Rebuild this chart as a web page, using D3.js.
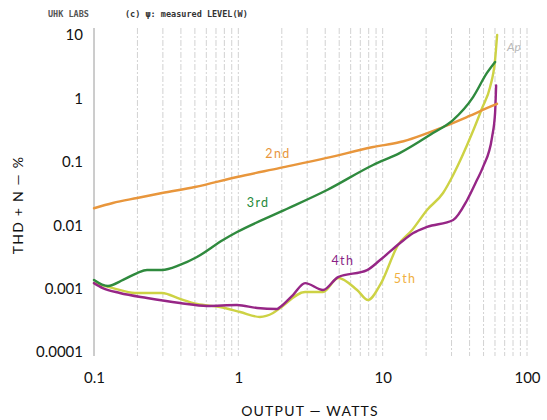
<!DOCTYPE html>
<html>
<head>
<meta charset="utf-8">
<script src="https://cdn.jsdelivr.net/npm/d3@7"></script>
<style>
  html, body { margin: 0; padding: 0; background: #fff; }
  svg { display: block; }
</style>
</head>
<body>
<svg id="chart" width="547" height="420"></svg>
<script>
// Harmonic distortion vs. output power, one series per harmonic
const seriesNames = ["2nd", "3rd", "4th", "5th"];

const watts2nd = [0.1, 0.135, 0.199, 0.296, 0.5, 0.98, 1.95, 4.1, 8.6, 13.2, 26.2, 38.5, 57.3, 62];
const thd2nd   = [0.0185, 0.0224, 0.0269, 0.0322, 0.040, 0.0575, 0.080, 0.115, 0.171, 0.205, 0.354, 0.51, 0.76, 0.82];

const watts3rd = [0.1, 0.125, 0.159, 0.199, 0.233, 0.296, 0.394, 0.517, 0.783, 0.98, 1.95, 4.12, 8.58, 13.2, 22.3, 30.7, 42.3, 52.8, 60.1];
const thd3rd   = [0.00137, 0.0011, 0.00137, 0.00176, 0.00196, 0.00196, 0.00236, 0.00315, 0.00585, 0.0078, 0.0162, 0.0359, 0.089, 0.138, 0.284, 0.456, 1.05, 2.52, 3.75];

const watts4th = [0.1, 0.115, 0.151, 0.233, 0.394, 0.607, 0.98, 1.35, 1.85, 1.95, 2.39, 2.9, 3.86, 4.91, 7.8, 9.6, 13.2, 16.3, 20.3, 30.8, 38.5, 45.1, 49.6, 57.3, 60.1, 61.1];
const thd4th   = [0.00122, 0.00102, 0.000853, 0.000711, 0.000593, 0.000532, 0.000551, 0.000494, 0.000477, 0.000513, 0.000792, 0.00122, 0.00095, 0.00152, 0.00196, 0.00282, 0.00524, 0.00753, 0.0094, 0.0121, 0.025, 0.052, 0.083, 0.246, 0.59, 1.6];

const watts5th = [0.1, 0.135, 0.192, 0.296, 0.394, 0.517, 0.746, 1.03, 1.41, 1.74, 1.95, 2.9, 3.86, 4.91, 6.65, 7.92, 9.6, 12.8, 16.0, 20.3, 26.2, 30.8, 41.7, 48.9, 55.5, 60.1, 62.1];
const thd5th   = [0.00122, 0.00102, 0.000853, 0.000853, 0.000686, 0.000571, 0.000513, 0.000428, 0.000357, 0.000412, 0.000494, 0.000883, 0.000883, 0.00147, 0.00095, 0.00066, 0.00114, 0.00488, 0.0084, 0.0174, 0.0322, 0.062, 0.284, 0.706, 1.51, 4.04, 10];

const xTickValues = [0.1, 1, 10, 100];
const xTickLabels = ["0.1", "1", "10", "100"];
const yTickValues = [10, 1, 0.1, 0.01, 0.001, 0.0001];
const yTickLabels = ["10", "1", "0.1", "0.01", "0.001", "0.0001"];

// Label anchor points for each series (watts, THD %)
const labelWatts = [1.88, 1.37, 5.3, 14.3];
const labelThd   = [0.128, 0.0214, 0.0026, 0.00137];

const colors = {
  "2nd": "#e8963c",
  "3rd": "#2f8a3e",
  "4th": "#962686",
  "5th": "#cdd244"
};
const labelColors = {
  "2nd": "#e8963c",
  "3rd": "#1f8a3a",
  "4th": "#8a1f86",
  "5th": "#f0b040"
};

const svg = d3.select("#chart");
const fontFamily = "Lato, 'Open Sans', sans-serif";

const x = d3.scaleLog().domain([0.1, 100]).range([94, 527]);
const y = d3.scaleLog().domain([0.0001, 10]).range([352, 35]);

// Vertical grid: every integer multiple in each decade
const gridValues = [];
for (let d = 0.1; d < 100; d *= 10) {
  for (let k = 1; k < 10; k++) gridValues.push(+(d * k).toPrecision(3));
}
gridValues.push(100);

svg.append("g").attr("class", "grid")
  .selectAll("line")
  .data(gridValues.slice(1))
  .join("line")
  .attr("x1", d => x(d)).attr("x2", d => x(d))
  .attr("y1", 28).attr("y2", 356)
  .attr("stroke", "#cdcdcd")
  .attr("stroke-width", 0.9)
  .attr("stroke-dasharray", "6,2,2,2");

// Left axis line
svg.append("line")
  .attr("x1", x(0.1)).attr("x2", x(0.1))
  .attr("y1", 28).attr("y2", 356)
  .attr("stroke", "#9a9a9a")
  .attr("stroke-width", 1);

// Y tick labels
const yAxis = d3.axisLeft(y)
  .tickValues(yTickValues)
  .tickFormat((d, i) => yTickLabels[i])
  .tickSize(0)
  .tickPadding(11);
const gy = svg.append("g").attr("transform", `translate(${x(0.1)},0)`).call(yAxis);
gy.select(".domain").remove();
gy.selectAll("text")
  .attr("font-family", fontFamily)
  .attr("font-size", 15)
  .attr("fill", "#111");

// X tick labels
const xAxis = d3.axisBottom(x)
  .tickValues(xTickValues)
  .tickFormat((d, i) => xTickLabels[i])
  .tickSize(0)
  .tickPadding(0);
const gx = svg.append("g").attr("transform", "translate(0,372)").call(xAxis);
gx.select(".domain").remove();
gx.selectAll("text")
  .attr("font-family", fontFamily)
  .attr("font-size", 15)
  .attr("fill", "#111");

// Axis titles
svg.append("text")
  .attr("x", 310).attr("y", 416)
  .attr("text-anchor", "middle")
  .attr("font-family", fontFamily)
  .attr("font-size", 14)
  .attr("letter-spacing", 1.2)
  .attr("fill", "#111")
  .text("OUTPUT — WATTS");

svg.append("text")
  .attr("transform", "translate(23,205) rotate(-90)")
  .attr("text-anchor", "middle")
  .attr("font-family", fontFamily)
  .attr("font-size", 14)
  .attr("letter-spacing", 1.2)
  .attr("fill", "#111")
  .text("THD + N — %");

// Header
svg.append("text")
  .attr("x", 48).attr("y", 17)
  .attr("font-family", "'DejaVu Sans Mono', monospace")
  .attr("font-size", 8.5)
  .attr("font-weight", "bold")
  .attr("fill", "#555")
  .text("UHK LABS");
svg.append("text")
  .attr("x", 125).attr("y", 17)
  .attr("font-family", "'DejaVu Sans Mono', monospace")
  .attr("font-size", 8.5)
  .attr("font-weight", "bold")
  .attr("fill", "#333")
  .text("(c) ψ: measured LEVEL(W)");

// Corner mark
svg.append("text")
  .attr("x", 507).attr("y", 51)
  .attr("font-family", fontFamily)
  .attr("font-size", 12)
  .attr("font-style", "italic")
  .attr("fill", "#b8b8b8")
  .text("Ap");

// Curves
const seriesData = {
  "2nd": watts2nd.map((w, i) => [w, thd2nd[i]]),
  "3rd": watts3rd.map((w, i) => [w, thd3rd[i]]),
  "4th": watts4th.map((w, i) => [w, thd4th[i]]),
  "5th": watts5th.map((w, i) => [w, thd5th[i]])
};

const line = d3.line()
  .x(d => x(d[0]))
  .y(d => y(d[1]))
  .curve(d3.curveMonotoneX);

const drawOrder = ["5th", "4th", "2nd", "3rd"];
svg.append("g").attr("class", "curves")
  .selectAll("path")
  .data(drawOrder)
  .join("path")
  .attr("d", name => line(seriesData[name]))
  .attr("fill", "none")
  .attr("stroke", name => colors[name])
  .attr("stroke-width", 2.4)
  .attr("stroke-linejoin", "round")
  .attr("stroke-linecap", "round");

// Series labels
svg.append("g").attr("class", "labels")
  .selectAll("text")
  .data(seriesNames)
  .join("text")
  .attr("x", (d, i) => x(labelWatts[i]))
  .attr("y", (d, i) => y(labelThd[i]))
  .attr("text-anchor", "middle")
  .attr("dominant-baseline", "middle")
  .attr("font-family", fontFamily)
  .attr("font-size", 12.5)
  .attr("letter-spacing", 1.3)
  .attr("fill", d => labelColors[d])
  .text(d => d);
</script>
</body>
</html>
